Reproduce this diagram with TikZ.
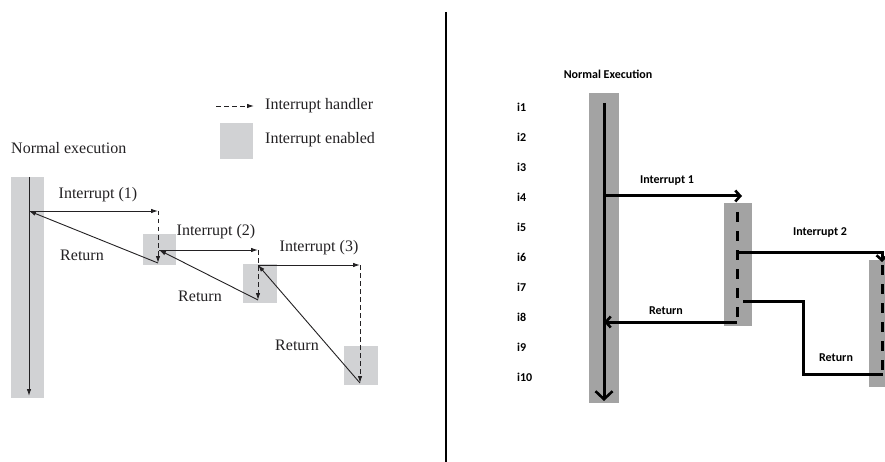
\documentclass[tikz,border=0pt]{standalone}
\usepackage{fontspec}
\setmainfont{Liberation Serif}
\newfontfamily\calib{Carlito}
\usetikzlibrary{arrows.meta}
\definecolor{lgray}{RGB}{209,210,212}
\definecolor{dgray}{RGB}{163,163,163}
\definecolor{linec}{RGB}{35,33,35}
\begin{document}
\begin{tikzpicture}[x=1pt,y=-1pt,
  lbox/.style={fill=lgray,draw=none,inner sep=0,outer sep=0,anchor=north west},
  dbox/.style={fill=dgray,draw=none,inner sep=0,outer sep=0,anchor=north west},
  larrow/.style={draw=linec,line width=0.9pt,-{Latex[length=7pt,width=4.5pt]}},
  ldash/.style={draw=linec,line width=0.9pt,dash pattern=on 4.5pt off 3.5pt,-{Latex[length=7pt,width=4.5pt]}},
  lbl/.style={font=\fontsize{16}{18}\selectfont,text=linec,inner sep=0},
  rline/.style={draw=black,line width=3pt},
  rdash/.style={draw=black,line width=3pt,dash pattern=on 10pt off 9pt},
  rarrow/.style={rline,-{Straight Barb[length=5pt,width=11pt,line width=2.6pt]}},
  rlbl/.style={font=\calib\bfseries\fontsize{12}{14}\selectfont,inner sep=0},
  ilbl/.style={font=\calib\bfseries\fontsize{12}{14}\selectfont,inner sep=0,anchor=west}
]
\useasboundingbox[fill=white] (0,0) rectangle (885,462);

% ---------- separator ----------
\coordinate (s1) at (445.5,12);
\coordinate (s2) at (445.5,462);
\draw[line width=2pt] (s1) -- (s2);

% ---------- left figure ----------
\node[lbox,minimum width=33,minimum height=221] (bar) at (11,177) {};
\node[lbox,minimum width=33,minimum height=31] (e1) at (143,234) {};
\node[lbox,minimum width=34,minimum height=39] (e2) at (243,264) {};
\node[lbox,minimum width=34,minimum height=39] (e3) at (344,346) {};

\coordinate (m0) at (29,177);
\coordinate (m1) at (29,396);
\coordinate (p1) at (29,211);
\coordinate (h1a) at (158,211);
\coordinate (h1b) at (158,263);
\coordinate (p2) at (159,250);
\coordinate (h2a) at (258,250);
\coordinate (h2b) at (258,300);
\coordinate (p3) at (258,265);
\coordinate (h3a) at (360,265);
\coordinate (h3b) at (360,383);

\draw[larrow] (m0) -- (m1);
\draw[larrow] (p1) -- (h1a);
\draw[ldash] (h1a) -- (h1b);
\draw[larrow] (h1b) -- (p1);
\draw[larrow] (p2) -- (h2a);
\draw[ldash] (h2a) -- (h2b);
\draw[larrow] (h2b) -- (p2);
\draw[larrow] (p3) -- (h3a);
\draw[ldash] (h3a) -- (h3b);
\draw[larrow] (h3b) -- (p3);

\node[lbl,anchor=west] (ne) at (11,148) {Normal execution};
\node[lbl] (i1l) at (98,195) {Interrupt (1)};
\node[lbl] (r1l) at (82,255) {Return};
\node[lbl] (i2l) at (216,232) {Interrupt (2)};
\node[lbl] (r2l) at (200,296) {Return};
\node[lbl] (i3l) at (319,248) {Interrupt (3)};
\node[lbl] (r3l) at (297,345) {Return};

% legend
\coordinate (lg1) at (216,106);
\coordinate (lg2) at (254,106);
\draw[ldash] (lg1) -- (lg2);
\node[lbox,minimum width=33,minimum height=36] (lgbox) at (220,123) {};
\node[lbl,anchor=west] (lgt1) at (265,106) {Interrupt handler};
\node[lbl,anchor=west] (lgt2) at (265,140) {Interrupt enabled};

% ---------- right figure ----------
\node[dbox,minimum width=30,minimum height=310] (rbar) at (589,93) {};
\node[dbox,minimum width=28,minimum height=123] (rb2) at (724,203) {};
\node[dbox,minimum width=16,minimum height=127] (rb3) at (869,260) {};

\node[rlbl] (rne) at (608,74) {Normal Execution};
\foreach \k in {1,...,10}{
  \node[ilbl] (il\k) at (517,{107+30*(\k-1)}) {i\k};
}

\coordinate (q0) at (604,103);
\coordinate (q1) at (604,401);
\coordinate (q4) at (604,196);
\coordinate (q8) at (604,322);
\coordinate (t1) at (742,196);
\coordinate (d1a) at (737,212);
\coordinate (d1b) at (737,323);
\coordinate (d1r) at (737,322);
\coordinate (k2a) at (737,252);
\coordinate (k2b) at (882,252);
\coordinate (k2c) at (882,262);
\coordinate (d2a) at (882,265);
\coordinate (d2b) at (882,374);
\coordinate (g1) at (743,301);
\coordinate (g2) at (803,301);
\coordinate (g3) at (803,374);
\coordinate (g4) at (883,374);

\draw[rline,-{Straight Barb[length=8pt,width=17pt,line width=2.6pt]}] (q0) -- (q1);
\draw[rarrow] (q4) -- (t1);
\draw[rdash] (d1a) -- (d1b);
\draw[rarrow] (d1r) -- (q8);
\draw[rarrow] (k2a) -- (k2b) -- (k2c);
\draw[rdash] (d2a) -- (d2b);
\draw[rline] (g1) -- (g2) -- (g3) -- (g4);

\node[rlbl] (ri1) at (667,181) {Interrupt 1};
\node[rlbl] (rr1) at (666,311) {Return};
\node[rlbl] (ri2) at (820,233) {Interrupt 2};
\node[rlbl] (rr2) at (836,358) {Return};
\end{tikzpicture}
\end{document}
